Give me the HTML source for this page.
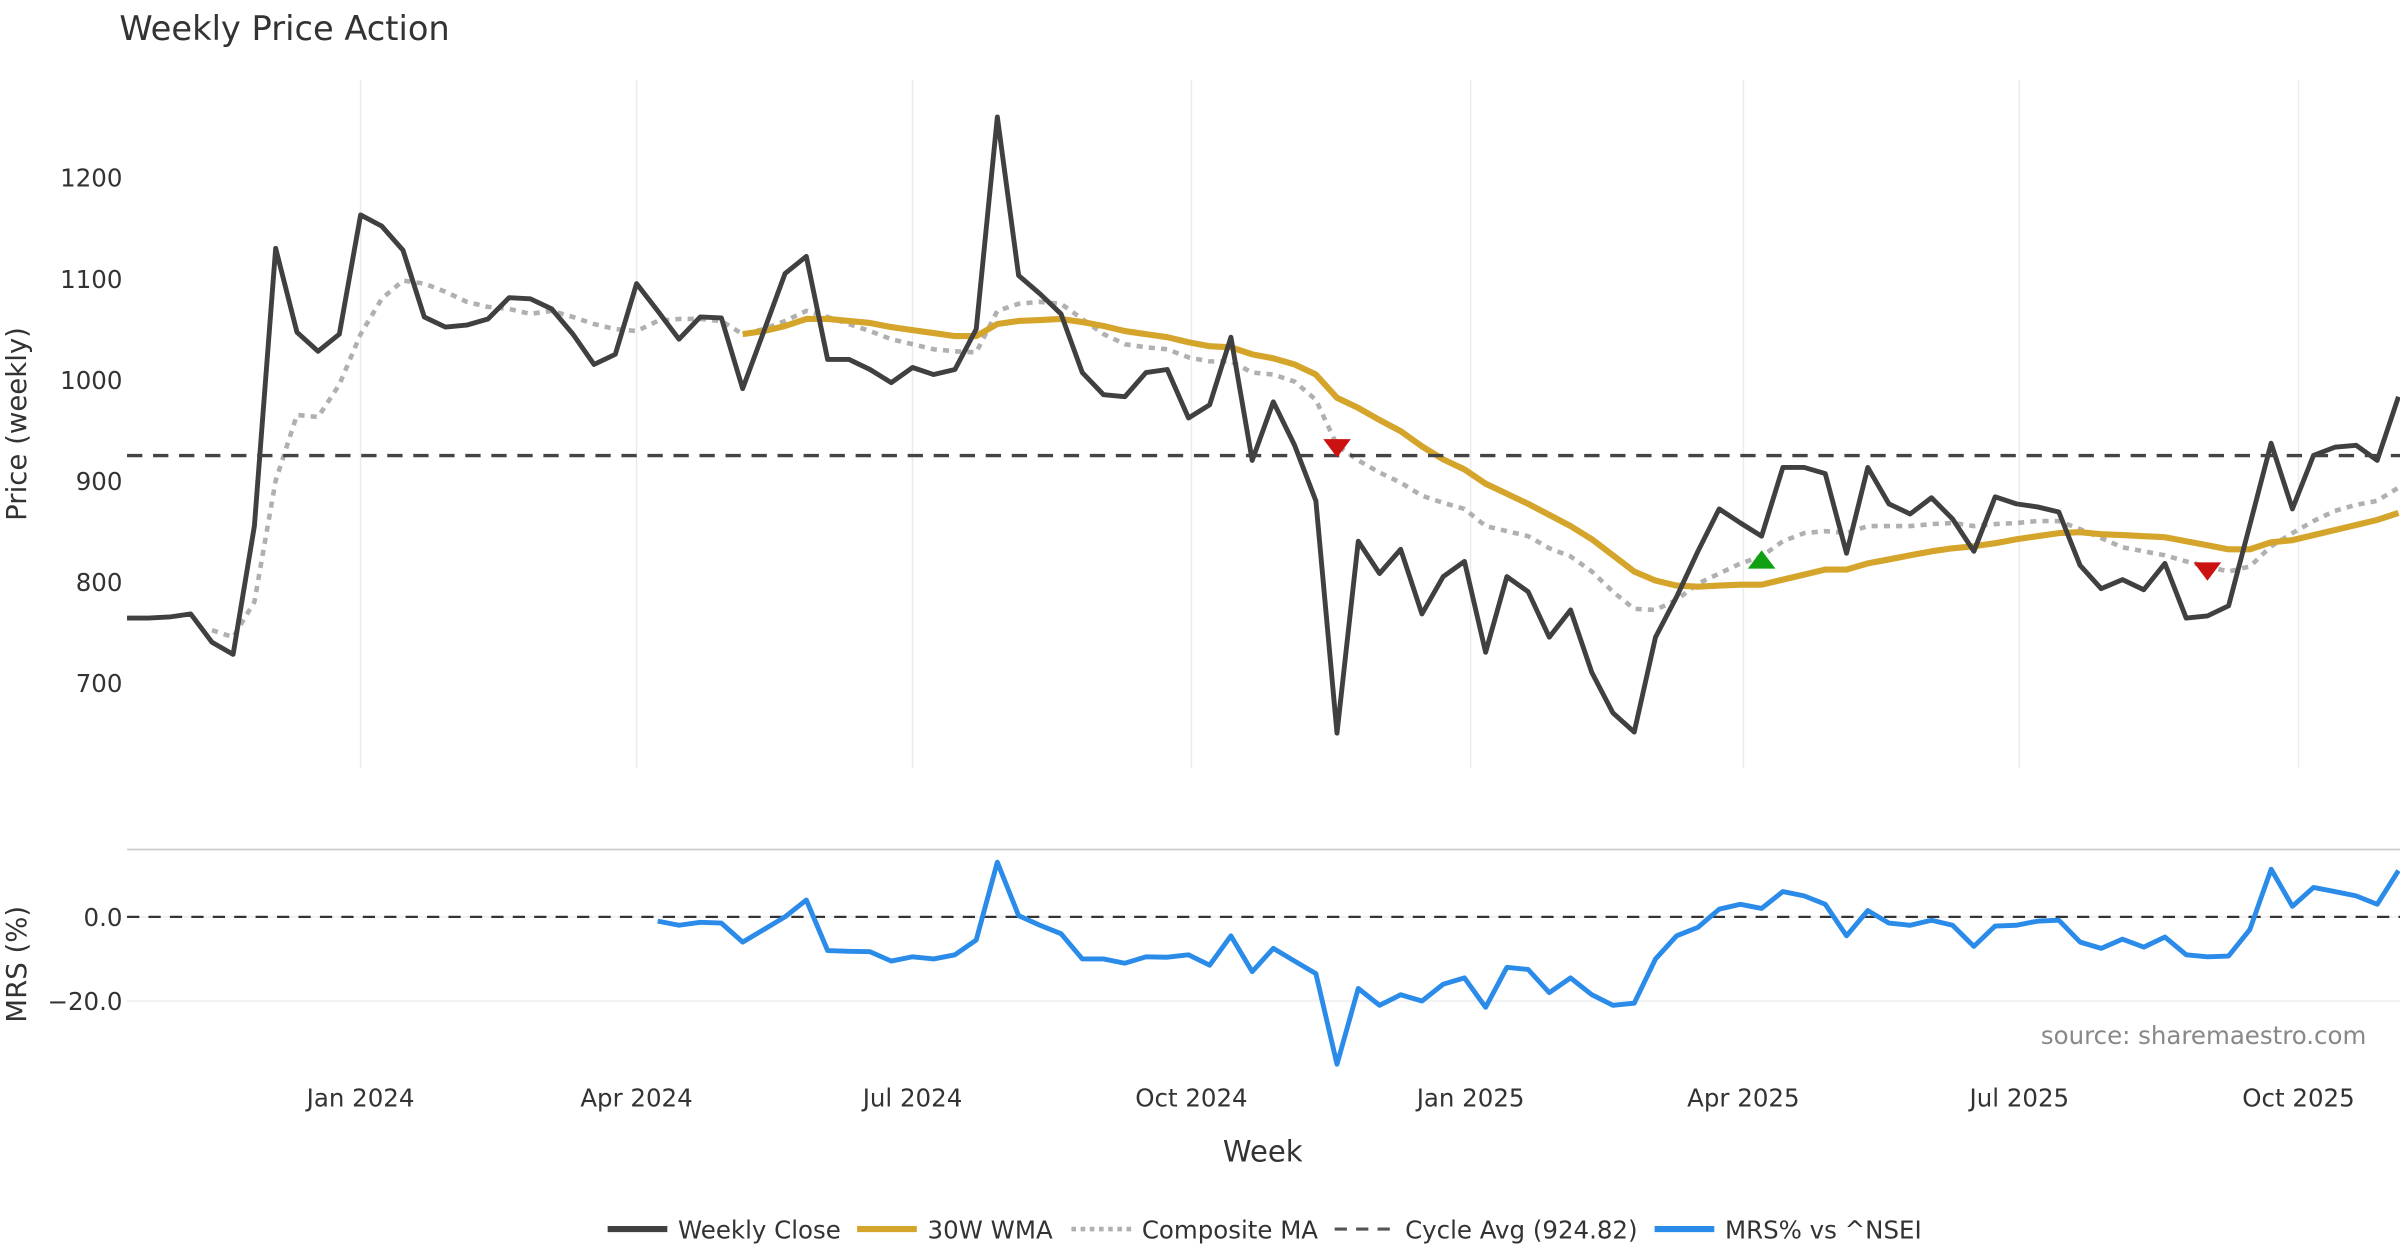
<!DOCTYPE html>
<html><head><meta charset="utf-8"><style>
html,body{margin:0;padding:0;background:#fff;}
svg{display:block;font-family:"DejaVu Sans","Liberation Sans",sans-serif;}
</style></head><body>
<svg id="chart" width="2400" height="1260" viewBox="0 0 1568 823.2" preserveAspectRatio="none" xmlns="http://www.w3.org/2000/svg">
<text x="78" y="26" font-size="22" fill="#333">Weekly Price Action</text>
<g id="grid"></g>
<g id="axes"></g>
<g id="series"></g>
<text transform="translate(17,277) rotate(-90)" text-anchor="middle" font-size="18" fill="#333">Price (weekly)</text>
<text transform="translate(17,630) rotate(-90)" text-anchor="middle" font-size="18" fill="#333">MRS (%)</text>
<text x="825" y="759" text-anchor="middle" font-size="19" fill="#333">Week</text>
<text x="1546" y="682" text-anchor="end" font-size="16" fill="#888">source: sharemaestro.com</text>
<g font-size="16" fill="#333">
  <line x1="397" y1="803" x2="436" y2="803" stroke="#404040" stroke-width="4"/>
  <text x="443" y="809">Weekly Close</text>
  <line x1="560" y1="803" x2="599" y2="803" stroke="#D4A52A" stroke-width="4"/>
  <text x="606" y="809">30W WMA</text>
  <line x1="700" y1="803" x2="739" y2="803" stroke="#b0b0b0" stroke-width="3" stroke-dasharray="3,3"/>
  <text x="746" y="809">Composite MA</text>
  <line x1="872" y1="803" x2="911" y2="803" stroke="#555" stroke-width="2" stroke-dasharray="8,6"/>
  <text x="918" y="809">Cycle Avg (924.82)</text>
  <line x1="1081" y1="803" x2="1120" y2="803" stroke="#2a8be8" stroke-width="4"/>
  <text x="1127" y="809">MRS% vs ^NSEI</text>
</g>
</svg>
<script>
const closeVals=[764,764,765,768,740,728,855,1130,1047,1028,1045,1163,1152,1128,1062,1052,1054,1060,1081,1080,1070,1045,1015,1025,1095,1068,1040,1062,1061,991,1048,1105,1122,1020,1020,1010,997,1012,1005,1010,1050,1260,1103,1085,1065,1007,985,983,1007,1010,962,975,1042,920,978,935,880,650,840,808,832,768,805,820,730,805,790,745,772,710,670,651,745,785,830,872,858,845,913,913,907,828,913,877,867,883,862,830,884,877,874,869,816,793,802,792,818,764,766,776,856,937,872,925,933,935,920,983];
const wmaStart=29;
const wmaVals=[1045,1048,1053,1060,1060,1058,1056,1052,1049,1046,1043,1043,1055,1058,1059,1060,1057,1053,1048,1045,1042,1037,1033,1032,1025,1021,1015,1005,982,972,960,949,934,921,911,897,887,877,866,855,842,826,810,801,796,795,796,797,797,802,807,812,812,818,822,826,830,833,835,838,842,845,848,849,847,846,845,844,840,836,832,832,839,841,846,851,856,861,868];
const compStart=4;
const compVals=[752,745,780,900,965,963,995,1045,1080,1098,1095,1087,1077,1072,1070,1065,1068,1062,1055,1050,1048,1058,1060,1060,1058,1045,1050,1058,1068,1062,1055,1048,1040,1035,1030,1028,1027,1068,1075,1077,1075,1060,1045,1035,1032,1030,1022,1018,1018,1007,1005,998,980,935,920,908,898,885,878,872,855,850,845,833,825,810,790,773,772,782,798,808,818,825,840,848,850,848,855,855,855,857,858,855,857,858,860,860,852,843,834,830,826,820,815,810,815,835,848,860,870,876,880,893];
const mrsStart=25;
const mrsVals=[-1,-2,-1.3,-1.5,-6,-3,0,4,-8,-8.2,-8.3,-10.5,-9.5,-10,-9,-5.5,13,0.3,-2,-4,-10,-10,-11,-9.5,-9.6,-9,-11.5,-4.5,-13,-7.5,-10.5,-13.5,-35,-17,-21,-18.5,-20,-16,-14.5,-21.5,-12,-12.5,-18,-14.5,-18.5,-21,-20.5,-10,-4.5,-2.5,1.8,3,2,6,5,3,-4.5,1.5,-1.5,-2,-0.8,-2,-7,-2.2,-2,-1,-0.8,-6,-7.5,-5.3,-7.2,-4.8,-9,-9.5,-9.3,-3,11.3,2.5,7,6,5,3,11];
const cycleAvg=924.82;
const signalIdx=[57,77,98];
const signalVals=[932,822,810];
const signalDir=["down","up","down"];
const priceTicks=[700,800,900,1000,1100,1200];
const mrsTicks=[0,-20];
const mrsTickLabels=["0.0","\u221220.0"];
const monthWeeks=[11,24,37,50.14,63.29,76.14,89.14,102.29];
const monthLabels=["Jan 2024","Apr 2024","Jul 2024","Oct 2024","Jan 2025","Apr 2025","Jul 2025","Oct 2025"];

const NS="http://www.w3.org/2000/svg";
const X0=83,DX=(1567-83)/107;
function xs(i){return X0+i*DX;}
function yp(v){return 116+(1200-v)*0.66;}
function ym(v){return 599-v*2.75;}
function mk(tag,attrs,parent){const e=document.createElementNS(NS,tag);for(const k in attrs)e.setAttribute(k,attrs[k]);parent.appendChild(e);return e;}
const grid=document.getElementById('grid'),axes=document.getElementById('axes'),ser=document.getElementById('series');

monthWeeks.forEach((w,k)=>{
  const g1=mk('line',{x1:xs(w),x2:xs(w),y1:52,y2:502,stroke:'#ececec','stroke-width':1},grid);
  
  
  const t=mk('text',{x:xs(w),y:723,'text-anchor':'middle','font-size':16,fill:'#333'},axes);
  t.textContent=monthLabels[k];
  
  
});
priceTicks.forEach(v=>{
  const t=mk('text',{x:80,y:yp(v)+6,'text-anchor':'end','font-size':16,fill:'#333'},axes);
  t.textContent=v;
  
  
});
const sep=mk('line',{x1:83,x2:1568,y1:555,y2:555,stroke:'#ccc','stroke-width':1.2},grid);


mrsTicks.forEach((v,k)=>{
  const gl=mk('line',{x1:83,x2:1568,y1:ym(v),y2:ym(v),stroke:'#eeeef2','stroke-width':1},grid);
  
  
  const t=mk('text',{x:80,y:ym(v)+6,'text-anchor':'end','font-size':16,fill:'#333'},axes);
  t.textContent=mrsTickLabels[k];
  
  
});
const z=mk('line',{x1:83,x2:1568,y1:ym(0),y2:ym(0),stroke:'#333','stroke-width':1.5,'stroke-dasharray':'8,6'},ser);



function poly(vals,start,yf,attrs,name){
  const pts=vals.map((v,i)=>xs(start+i).toFixed(1)+','+yf(v).toFixed(1)).join(' ');
  const p=mk('polyline',Object.assign({points:pts,fill:'none','stroke-linejoin':'round'},attrs),ser);
  
  
}
poly(compVals,compStart,yp,{stroke:'#b0b0b0','stroke-width':3,'stroke-dasharray':'4,4'},'composite-ma-line');
poly(wmaVals,wmaStart,yp,{stroke:'#D4A52A','stroke-width':4},'wma-line');
poly(closeVals,0,yp,{stroke:'#404040','stroke-width':3.2},'weekly-close-line');
const ca=mk('line',{x1:83,x2:1568,y1:yp(cycleAvg),y2:yp(cycleAvg),stroke:'#444','stroke-width':2.2,'stroke-dasharray':'10,7'},ser);


poly(mrsVals,mrsStart,ym,{stroke:'#2a8be8','stroke-width':3.2},'mrs-line');

signalIdx.forEach((idx,k)=>{
  const x=xs(idx),y=yp(signalVals[k]);
  let pts,col;
  if(signalDir[k]==='down'){pts=`${x-9},${y-6} ${x+9},${y-6} ${x},${y+6}`;col='#cc1111';}
  else{pts=`${x-9},${y+6} ${x+9},${y+6} ${x},${y-6}`;col='#11a011';}
  const m=mk('polygon',{points:pts,fill:col},ser);
  
  
});
</script>
</body></html>
